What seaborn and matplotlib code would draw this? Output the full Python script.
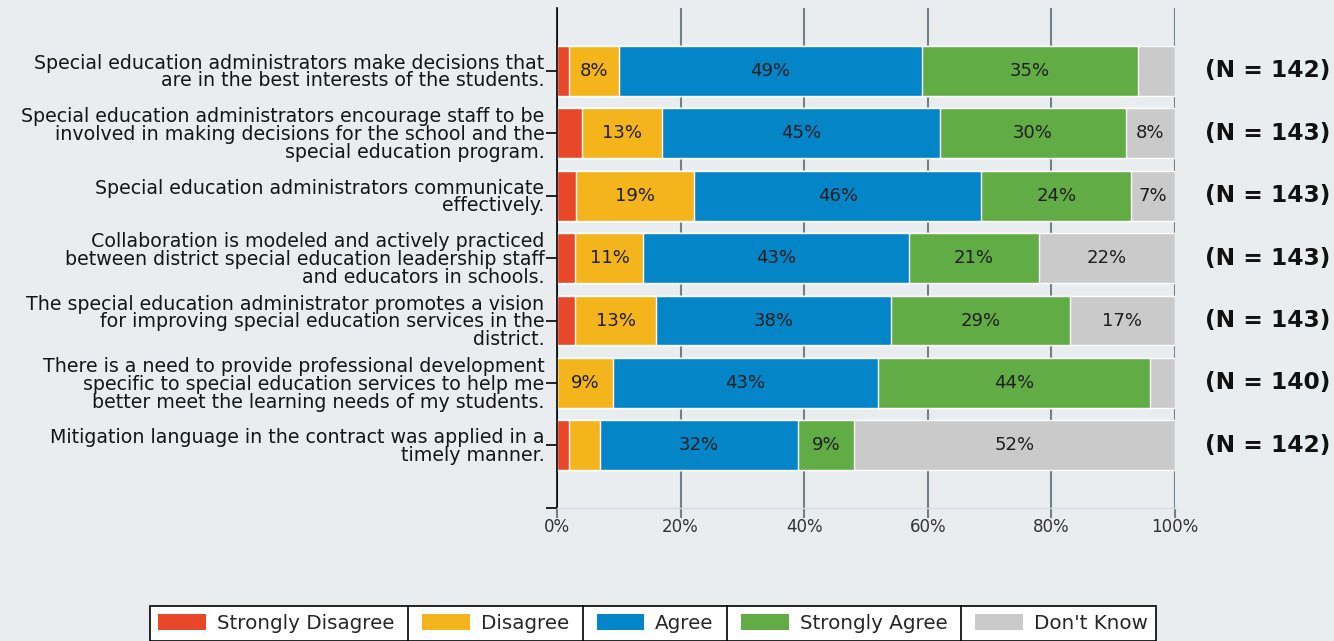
import numpy as np
import pandas as pd
import matplotlib
matplotlib.use("Agg")
import matplotlib.pyplot as plt
import matplotlib.transforms as mtransforms
import seaborn as sns
from matplotlib.patches import Patch
from matplotlib.lines import Line2D

# Datos
preguntas = [
    "Special education administrators make decisions that\nare in the best interests of the students.",
    "Special education administrators encourage staff to be\ninvolved in making decisions for the school and the\nspecial education program.",
    "Special education administrators communicate\neffectively.",
    "Collaboration is modeled and actively practiced\nbetween district special education leadership staff\nand educators in schools.",
    "The special education administrator promotes a vision\nfor improving special education services in the\ndistrict.",
    "There is a need to provide professional development\nspecific to special education services to help me\nbetter meet the learning needs of my students.",
    "Mitigation language in the contract was applied in a\ntimely manner.",
]
n_resp = [142, 143, 143, 143, 143, 140, 142]

niveles = ["Strongly Disagree", "Disagree", "Agree", "Strongly Agree", "Don't Know"]
colores = ["#E8472A", "#F4B41C", "#0485C8", "#62AC45", "#CACACA"]

strongly_disagree = [2, 4, 3, 3, 3, 0, 2]
disagree = [8, 13, 19, 11, 13, 9, 5]
agree = [49, 45, 46, 43, 38, 43, 32]
strongly_agree = [35, 30, 24, 21, 29, 44, 9]
dont_know = [6, 8, 7, 22, 17, 4, 52]

fondo = "#E9EDF0"

sns.set_theme(style="white")
plt.rcParams["font.family"] = ["DejaVu Sans"]

df = pd.DataFrame({
    "Strongly Disagree": strongly_disagree,
    "Disagree": disagree,
    "Agree": agree,
    "Strongly Agree": strongly_agree,
    "Don't Know": dont_know,
}, index=preguntas)
pct = df.div(df.sum(axis=1), axis=0) * 100
acum = pct.cumsum(axis=1)

fig = plt.figure(figsize=(13.34, 6.41), dpi=100, facecolor=fondo)
ax = fig.add_axes([0.4175, 0.2075, 0.4633, 0.78])
ax.set_facecolor(fondo)

# barras apiladas: se dibuja el acumulado desde el ultimo nivel
for niv, col in reversed(list(zip(niveles, colores))):
    sns.barplot(x=acum[niv].values, y=preguntas, color=col, saturation=1,
                width=0.8, orient="h", errorbar=None, ax=ax, zorder=2)

for i, preg in enumerate(preguntas):
    for niv in niveles:
        v = df.loc[preg, niv]
        if v >= 7:
            ax.text(acum.loc[preg, niv] - pct.loc[preg, niv] / 2, i, f"{v}%",
                    ha="center", va="center", fontsize=13, color="#1E1E1E", zorder=3)

trans = mtransforms.blended_transform_factory(ax.transAxes, ax.transData)
for i, n in enumerate(n_resp):
    ax.text(1.0485, i, f"(N = {n})", transform=trans, ha="left", va="center",
            fontsize=16.8, fontweight="bold", color="#111111")

ax.set_xlim(0, 100)
ax.set_ylim(7, -1)
ax.set_xticks([0, 20, 40, 60, 80, 100])
ax.set_xticklabels([f"{v}%" for v in [0, 20, 40, 60, 80, 100]])
ax.set_xlabel("")
ax.set_ylabel("")
ax.set_axisbelow(True)
ax.xaxis.grid(True, color="#71808A", linewidth=1.5)
ax.yaxis.grid(False)

ax.tick_params(axis="x", length=7, width=1.5, color="#71808A", labelsize=12,
               labelcolor="#333333", pad=0.5, bottom=True)
ax.tick_params(axis="y", length=8, width=1.2, color="black", labelsize=13.7,
               labelcolor="#161616", pad=1, left=True)
ax.set_yticks([7], minor=True)
ax.tick_params(axis="y", which="minor", length=8, width=1.2, color="black", left=True)
for lbl in ax.get_yticklabels():
    lbl.set_linespacing(0.93)

for s in ["top", "right"]:
    ax.spines[s].set_visible(False)
ax.spines["left"].set_color("black")
ax.spines["left"].set_linewidth(1.2)
ax.spines["bottom"].set_color("#D5DCE6")
ax.spines["bottom"].set_linewidth(1)

# leyenda con celdas separadas
manijas = [Patch(facecolor=c, edgecolor="none") for c in colores]
leg = fig.legend(manijas, niveles, loc="upper center", bbox_to_anchor=(0.4895, 0.0546),
                 ncol=5, frameon=True, fancybox=False, edgecolor="black",
                 facecolor="white", fontsize=14.3, handlelength=2.4, handleheight=0.85,
                 handletextpad=0.55, columnspacing=1.4, borderpad=0.4,
                 borderaxespad=0, framealpha=1)
leg.get_frame().set_linewidth(1.2)

fig.canvas.draw()
r = fig.canvas.get_renderer()
caja = leg.get_frame().get_window_extent(r)
for t, h in zip(leg.get_texts()[:-1], leg.legend_handles[1:]):
    xm = (t.get_window_extent(r).x1 + h.get_window_extent(r).x0) / 2
    fig.add_artist(Line2D([xm, xm], [caja.y0, caja.y1], color="black", lw=1.2,
                          transform=mtransforms.IdentityTransform(), zorder=10))

fig.savefig("out.png", dpi=100, facecolor=fondo)
